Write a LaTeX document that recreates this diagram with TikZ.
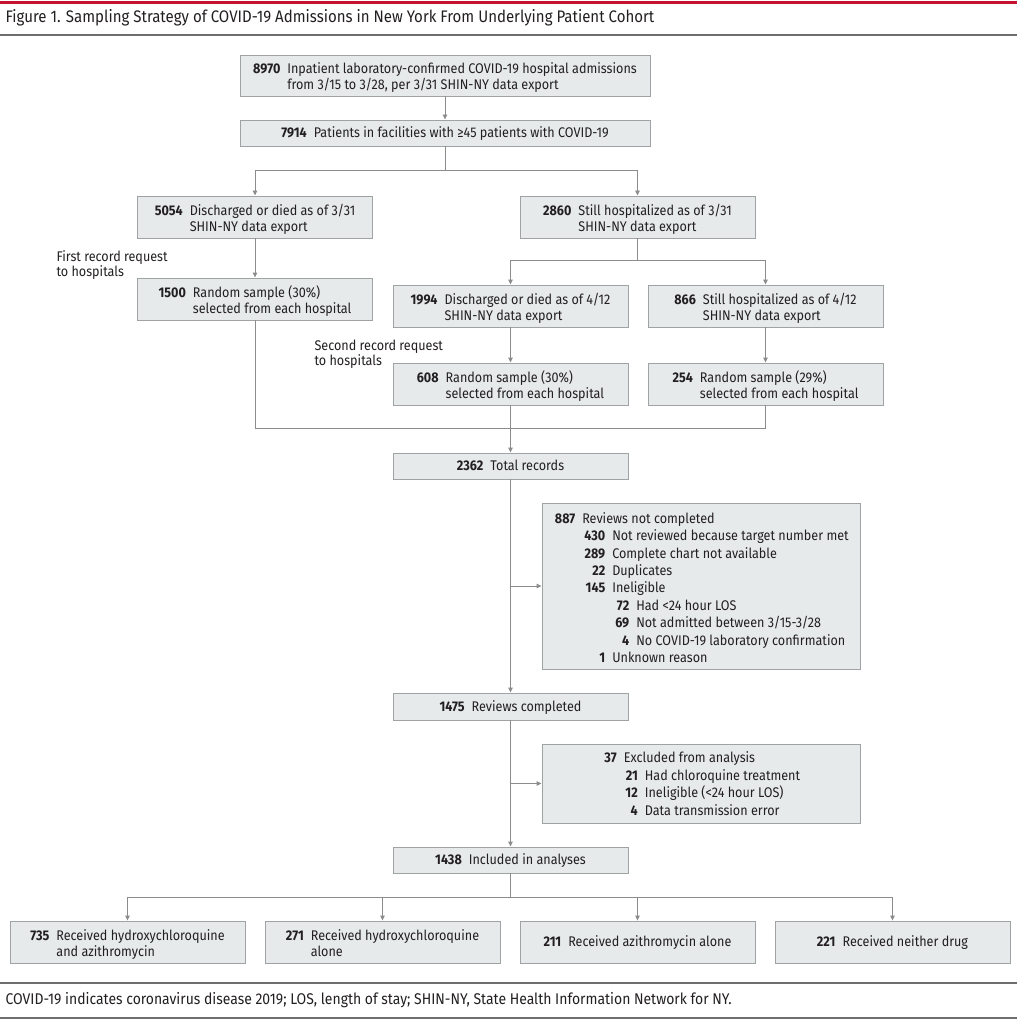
\documentclass[tikz,border=0pt]{standalone}
\usepackage{fontspec}
\setmainfont{Fira Sans}[FakeStretch=0.9]
\usetikzlibrary{arrows.meta}
\definecolor{boxfill}{HTML}{E6EAEB}
\definecolor{boxdraw}{HTML}{9FA3A4}
\definecolor{connc}{HTML}{8C8C8C}
\definecolor{txt}{HTML}{231F20}
\definecolor{jamared}{HTML}{C4122F}
\definecolor{rulegray}{HTML}{6D6E70}
\newcommand\nt[2]{\rule[-3pt]{0pt}{15.2pt}\textbf{#1}\hspace{7pt}#2}
\newcommand\twol[3]{\begin{tabular}{@{}r@{\hspace{7pt}}l@{}}\rule{0pt}{17.2pt}\textbf{#1}&#2\\&#3\end{tabular}}
\newcommand\lv[3]{\makebox[#1][r]{\textbf{#2}}\hspace{7pt}#3}
\begin{document}
\begin{tikzpicture}[x=1pt,y=-1pt,
  font=\fontsize{14}{16.3}\selectfont, text=txt,
  box/.style={draw=boxdraw, fill=boxfill, line width=0.9pt, inner sep=0pt,
    minimum width=235pt, minimum height=42pt},
  listbox/.style={box, font=\fontsize{14}{17.4}\selectfont},
  conn/.style={draw=connc, line width=0.9pt},
  arr/.style={conn, -{Triangle[length=5pt,width=4.5pt]}},
  sidelab/.style={anchor=north west, align=left, font=\fontsize{14}{15}\selectfont}]
\useasboundingbox (0,0) rectangle (1024,1024);
% header and footer rules
\draw[jamared, line width=3pt] (0,3) -- (1017,3);
\node[anchor=west, font=\fontsize{16.7}{19}\selectfont] (title) at (2,18)
  {Figure 1. Sampling Strategy of COVID-19 Admissions in New York From Underlying Patient Cohort};
\draw[rulegray, line width=1.8pt] (0,35) -- (1017,35);
\draw[rulegray, line width=1.5pt] (0,983) -- (1017,983);
\node[anchor=west, font=\fontsize{15.5}{18}\selectfont] (foot) at (2,1000)
  {COVID-19 indicates coronavirus disease 2019; LOS, length of stay; SHIN-NY, State Health Information Network for NY.};
\draw[rulegray, line width=1.5pt] (0,1018) -- (1017,1018);

% boxes
\node[box, minimum width=410pt, minimum height=41pt] (b8970) at (445,75.5)
  {\twol{8970}{Inpatient laboratory-confirmed COVID-19 hospital admissions}{from 3/15 to 3/28, per 3/31 SHIN-NY data export}};
\node[box, minimum width=410pt, minimum height=26pt] (b7914) at (445,133)
  {\nt{7914}{Patients in facilities with ≥45 patients with COVID-19}};
\node[box] (b5054) at (255,217) {\twol{5054}{Discharged or died as of 3/31}{SHIN-NY data export}};
\node[box] (b2860) at (637.5,217) {\twol{2860}{Still hospitalized as of 3/31}{SHIN-NY data export}};
\node[box] (b1500) at (255,299) {\twol{1500}{Random sample (30\%)}{selected from each hospital}};
\node[box] (b1994) at (510.5,306) {\twol{1994}{Discharged or died as of 4/12}{SHIN-NY data export}};
\node[box] (b866) at (765.5,306) {\twol{866}{Still hospitalized as of 4/12}{SHIN-NY data export}};
\node[box] (b608) at (510.5,384) {\twol{608}{Random sample (30\%)}{selected from each hospital}};
\node[box] (b254) at (765.5,384) {\twol{254}{Random sample (29\%)}{selected from each hospital}};
\node[box, minimum height=26pt] (b2362) at (510.5,466) {\nt{2362}{Total records}};
\node[listbox, minimum width=318pt, minimum height=166pt] (b887) at (701,586)
  {\begin{tabular}{@{}l@{}}
   \rule{0pt}{19.2pt}\lv{22pt}{887}{Reviews not completed}\\
   \lv{52pt}{430}{Not reviewed because target number met}\\
   \lv{52pt}{289}{Complete chart not available}\\
   \lv{52pt}{22}{Duplicates}\\
   \lv{52pt}{145}{Ineligible}\\
   \lv{76pt}{72}{Had <24 hour LOS}\\
   \lv{76pt}{69}{Not admitted between 3/15-3/28}\\
   \lv{76pt}{4}{No COVID-19 laboratory confirmation}\\
   \lv{52pt}{1}{Unknown reason}
  \end{tabular}};
\node[box, minimum height=27pt] (b1475) at (510.5,706.5) {\nt{1475}{Reviews completed}};
\node[listbox, minimum width=318pt, minimum height=79pt] (b37) at (701,783.5)
  {\begin{tabular}{@{}l@{}}
   \rule{0pt}{16.3pt}\lv{15pt}{37}{Excluded from analysis}\\
   \lv{36pt}{21}{Had chloroquine treatment}\\
   \lv{36pt}{12}{Ineligible (<24 hour LOS)}\\
   \lv{36pt}{4}{Data transmission error}
  \end{tabular}};
\node[box, minimum height=26pt] (b1438) at (510.5,860) {\nt{1438}{Included in analyses}};
\node[box] (r1) at (127.5,942) {\twol{735}{Received hydroxychloroquine}{and azithromycin}};
\node[box] (r2) at (382.5,942) {\twol{271}{Received hydroxychloroquine}{alone}};
\node[box] (r3) at (637.5,942) {\nt{211}{Received azithromycin alone}};
\node[box] (r4) at (892.5,942) {\nt{221}{Received neither drug}};

% side labels
\node[sidelab] (lab1) at (53,247) {First record request\\to hospitals};
\node[sidelab] (lab2) at (311,336) {Second record request\\to hospitals};

% connectors
\draw[arr] (b8970) -- (b7914);
\coordinate (s1) at (445,170);
\draw[conn] (b7914.south) -- (s1);
\draw[arr] (s1) -| (b5054.north);
\draw[arr] (s1) -| (b2860.north);
\draw[arr] (b5054) -- (b1500);
\coordinate (s2) at (637.5,260);
\draw[conn] (b2860.south) -- (s2);
\draw[arr] (s2) -| (b1994.north);
\draw[arr] (s2) -| (b866.north);
\draw[arr] (b1994) -- (b608);
\draw[arr] (b866) -- (b254);
\coordinate (m) at (510.5,428);
\draw[conn] (b1500.south) |- (m);
\draw[conn] (b254.south) |- (m);
\draw[arr] (b608.south) -- (b2362.north);
\draw[arr] (b2362) -- (b1475);
\coordinate (j1) at (510.5,586);
\draw[arr] (j1) -- (b887.west);
\draw[arr] (b1475) -- (b1438);
\coordinate (j2) at (510.5,783.5);
\draw[arr] (j2) -- (b37.west);
\coordinate (s3) at (510.5,897);
\draw[conn] (b1438.south) -- (s3);
\draw[arr] (s3) -| (r1.north);
\draw[arr] (s3) -| (r2.north);
\draw[arr] (s3) -| (r3.north);
\draw[arr] (s3) -| (r4.north);
\end{tikzpicture}
\end{document}
